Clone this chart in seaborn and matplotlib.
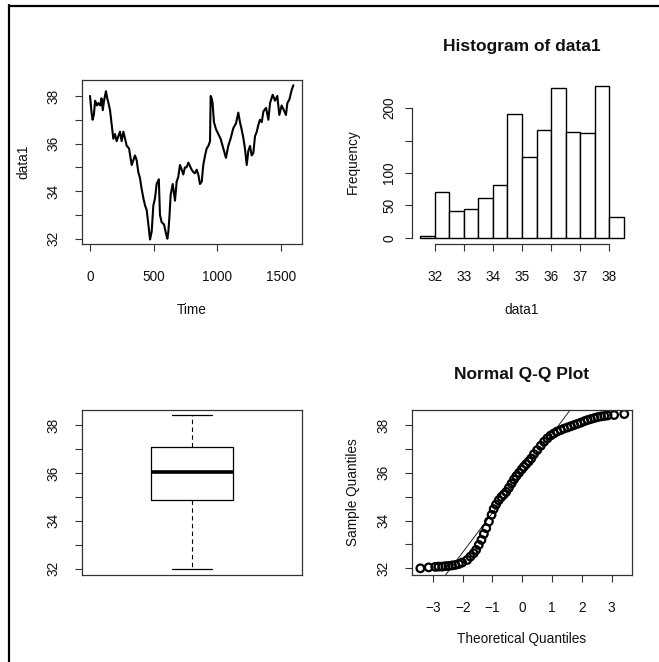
import matplotlib
matplotlib.use("Agg")
import matplotlib.pyplot as plt
import seaborn as sns
from statistics import NormalDist
from matplotlib.lines import Line2D

# ---- series: data1 over time ----
ts_time = [0, 12, 20, 30, 40, 55, 65, 80, 90, 100, 110, 125, 135, 145, 157, 170, 183,
           196, 209, 222, 235, 248, 262, 275, 288, 306, 327, 340, 353, 366, 379, 392,
           405, 419, 432, 445, 458, 471, 484, 497, 510, 523, 540, 549, 562, 581, 597,
           607, 615, 623, 633, 649, 667, 680, 693, 706, 720, 732, 745, 758, 772, 785,
           798, 811, 824, 837, 850, 863, 877, 889, 903, 916, 929, 942, 947, 955, 962,
           973, 989, 1007, 1025, 1046, 1067, 1085, 1103, 1125, 1146, 1164, 1177, 1190,
           1203, 1216, 1230, 1243, 1256, 1269, 1282, 1295, 1309, 1322, 1334, 1348, 1361,
           1382, 1400, 1413, 1434, 1452, 1470, 1486, 1504, 1522, 1538, 1549, 1565, 1583,
           1596]
ts_value = [38.0, 37.3, 37.0, 37.2, 37.8, 37.6, 37.7, 37.6, 37.9, 37.4, 37.8, 38.2, 37.9,
            37.7, 37.4, 36.8, 36.2, 36.4, 36.1, 36.3, 36.5, 36.1, 36.5, 36.2, 35.9, 35.8,
            35.1, 35.3, 35.5, 35.3, 34.8, 34.55, 34.1, 33.7, 33.4, 33.2, 32.6, 31.97, 32.3,
            33.4, 33.7, 34.3, 34.5, 33.0, 32.7, 32.6, 32.2, 32.0, 32.3, 32.9, 33.85, 34.3,
            33.6, 34.4, 34.6, 35.1, 34.9, 34.7, 35.0, 35.0, 35.2, 35.05, 34.9, 34.8, 34.75,
            34.9, 34.7, 34.3, 34.4, 35.1, 35.5, 35.8, 35.9, 36.1, 38.0, 37.9, 37.7, 36.9,
            36.6, 36.4, 36.2, 35.8, 35.4, 35.9, 36.2, 36.65, 36.85, 37.3, 36.9, 36.6,
            36.25, 35.8, 35.1, 35.7, 35.9, 35.5, 35.6, 36.3, 36.5, 36.8, 37.0, 36.9, 37.35,
            37.5, 37.0, 37.7, 38.05, 37.8, 38.0, 37.2, 37.6, 37.4, 37.2, 37.7, 37.85, 38.25,
            38.45]

# ---- histogram of data1 ----
hist_breaks = [31.5, 32.0, 32.5, 33.0, 33.5, 34.0, 34.5, 35.0, 35.5, 36.0, 36.5, 37.0,
               37.5, 38.0, 38.5]
hist_counts = [3, 71, 42, 45, 61, 81, 191, 124, 166, 231, 163, 161, 234, 32]

# ---- five-number summary for the box plot ----
box_min, box_q1, box_median, box_q3, box_max = 31.97, 34.86, 36.03, 37.09, 38.42

# ---- normal Q-Q points ----
qq_theoretical = [-3.42, -3.14, -2.92, -2.81, -2.69, -2.58, -2.47, -2.36, -2.25, -2.13,
                  -2.02, -1.85, -1.74, -1.63, -1.55, -1.46, -1.37, -1.29, -1.21, -1.12,
                  -1.03, -0.96, -0.88, -0.79, -0.70, -0.62, -0.54, -0.45, -0.36, -0.28,
                  -0.20, -0.11, -0.02, 0.05, 0.13, 0.22, 0.30, 0.39, 0.50, 0.62, 0.73,
                  0.84, 0.95, 1.06, 1.17, 1.29, 1.40, 1.52, 1.63, 1.74, 1.85, 1.96,
                  2.08, 2.19, 2.30, 2.41, 2.52, 2.64, 2.75, 2.86, 3.08, 3.42]
qq_sample = [32.0, 32.04, 32.06, 32.07, 32.07, 32.09, 32.1, 32.12, 32.14, 32.18, 32.24,
             32.35, 32.49, 32.63, 32.77, 32.98, 33.19, 33.44, 33.68, 33.96, 34.24, 34.48,
             34.67, 34.85, 34.99, 35.09, 35.2, 35.37, 35.55, 35.72, 35.86, 36.0, 36.14,
             36.25, 36.36, 36.48, 36.6, 36.78, 36.95, 37.13, 37.3, 37.44, 37.56, 37.65,
             37.73, 37.79, 37.85, 37.9, 37.95, 38.0, 38.05, 38.1, 38.16, 38.21, 38.25,
             38.29, 38.33, 38.36, 38.38, 38.4, 38.42, 38.46]

sns.set_theme(style="white")
plt.rcParams["font.family"] = ["Liberation Sans", "DejaVu Sans"]
plt.rcParams["axes.edgecolor"] = "#333333"

INK = "#111111"
TICK_FS = 9.8
LAB_FS = 9.8
TITLE_FS = 12.5
W, H = 659, 662

fig = plt.figure(figsize=(W / 100, H / 100), dpi=100)
fig.patch.set_facecolor("white")


def px_axes(x0, y0, x1, y1):
    return fig.add_axes([x0 / W, 1 - y1 / H, (x1 - x0) / W, (y1 - y0) / H])


def style_axes(ax, boxed=True, ypad=10.3, xpad=13.5):
    for s in ax.spines.values():
        s.set_visible(boxed)
        s.set_linewidth(0.9)
        s.set_color("#333333")
    ax.tick_params(axis="both", direction="out", length=5.2, width=0.8,
                   color="#333333", labelsize=TICK_FS, labelcolor=INK,
                   bottom=True, left=True)
    ax.tick_params(axis="x", pad=xpad)
    ax.tick_params(axis="y", pad=ypad, labelrotation=90)
    for lab in ax.get_yticklabels():
        lab.set_va("center")
    ax.grid(False)


def place_labels(ax, xlabel, ylabel, xy=-0.40, yx=-0.268):
    if xlabel:
        ax.set_xlabel(xlabel, fontsize=LAB_FS, color=INK)
        ax.xaxis.set_label_coords(0.5, xy)
        ax.xaxis.label.set_va("center")
    else:
        ax.set_xlabel("")
    if ylabel:
        ax.set_ylabel(ylabel, fontsize=LAB_FS, color=INK)
        ax.yaxis.set_label_coords(yx, 0.5)
        ax.yaxis.label.set_va("center")
    else:
        ax.set_ylabel("")


even_labels = ["32", "", "34", "", "36", "", "38"]

# ---- time series ----
ax1 = px_axes(82, 80, 302, 244)
sns.lineplot(x=ts_time, y=ts_value, ax=ax1, color="black", linewidth=1.5,
             estimator=None, sort=False)
ax1.set_xlim(-63, 1664)
ax1.set_ylim(31.78, 38.67)
ax1.set_xticks([0, 500, 1000, 1500])
ax1.set_yticks(range(32, 39))
ax1.set_yticklabels(even_labels)
style_axes(ax1)
place_labels(ax1, "Time", "data1")

# ---- histogram ----
ax2 = px_axes(412, 80, 632, 244)
centers = [(a + b) / 2 for a, b in zip(hist_breaks[:-1], hist_breaks[1:])]
sns.histplot(x=centers, weights=hist_counts, bins=hist_breaks, ax=ax2,
             stat="count", color="white", edgecolor="black", linewidth=1.0,
             alpha=1.0)
ax2.set_xlim(31.22, 38.78)
ax2.set_ylim(-9.4, 243.4)
ax2.set_xticks(range(32, 39))
ax2.set_yticks([0, 50, 100, 150, 200])
ax2.set_yticklabels(["0", "50", "100", "", "200"])
style_axes(ax2, boxed=False, ypad=6.3)
ax2.spines["left"].set_visible(True)
ax2.spines["bottom"].set_visible(True)
ax2.spines["left"].set_bounds(0, 200)
ax2.spines["bottom"].set_bounds(32, 38)
place_labels(ax2, "data1", "Frequency", yx=-0.267)
ax2.set_title("Histogram of data1", fontsize=TITLE_FS, fontweight="bold",
              color=INK, y=1.203, va="center", pad=0)

# ---- box plot ----
ax3 = px_axes(82, 410, 302, 574.5)
ax3.bxp([dict(whislo=box_min, q1=box_q1, med=box_median, q3=box_q3,
              whishi=box_max, fliers=[])],
        positions=[1], widths=0.4, capwidths=0.2, showfliers=False,
        boxprops=dict(color="black", linewidth=0.9),
        medianprops=dict(color="black", linewidth=2.6, solid_capstyle="butt"),
        whiskerprops=dict(color="black", linewidth=0.8, linestyle=(0, (4, 3))),
        capprops=dict(color="black", linewidth=0.9))
ax3.set_xlim(0.46, 1.54)
ax3.set_ylim(31.75, 38.63)
ax3.set_xticks([])
ax3.set_yticks(range(32, 39))
ax3.set_yticklabels(even_labels)
style_axes(ax3)
ax3.tick_params(axis="x", bottom=False)
place_labels(ax3, None, None)

# ---- normal Q-Q plot ----
ax4 = px_axes(411.7, 410, 632.3, 575)
sns.scatterplot(x=qq_theoretical, y=qq_sample, ax=ax4, marker="o", s=30,
                facecolor="none", edgecolor="black", linewidth=1.6)
z75 = NormalDist().inv_cdf(0.75)
ax4.axline((-z75, box_q1), (z75, box_q3), color="black", linewidth=0.6)
ax4.set_xlim(-3.71, 3.69)
ax4.set_ylim(31.72, 38.63)
ax4.set_xticks(range(-3, 4))
ax4.set_yticks(range(32, 39))
ax4.set_yticklabels(even_labels)
style_axes(ax4)
place_labels(ax4, "Theoretical Quantiles", "Sample Quantiles", xy=-0.389, yx=-0.266)
ax4.set_title("Normal Q-Q Plot", fontsize=TITLE_FS, fontweight="bold",
              color=INK, y=1.213, va="center", pad=0)

# outer frame along the top and left edges
fig.add_artist(Line2D([8.5 / W, 1.0], [1 - 5.7 / H, 1 - 5.7 / H],
                      transform=fig.transFigure, color="black", linewidth=1.6))
fig.add_artist(Line2D([8.5 / W, 8.5 / W], [0.0, 1 - 5.0 / H],
                      transform=fig.transFigure, color="black", linewidth=1.6))

fig.savefig("out.png", dpi=100, facecolor="white")
